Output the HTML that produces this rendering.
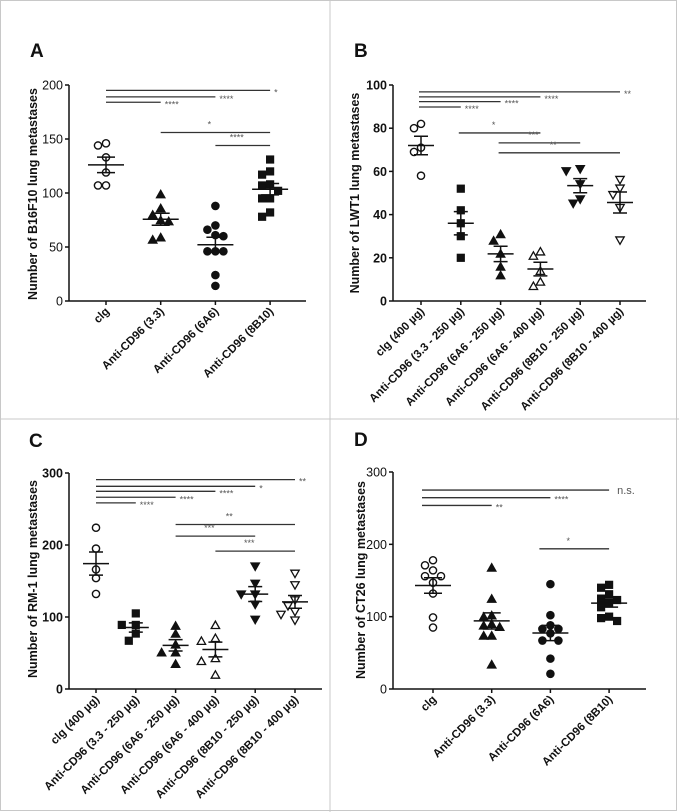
<!DOCTYPE html>
<html><head><meta charset="utf-8"><style>
html,body{margin:0;padding:0;background:#fff;}
svg{display:block;font-family:"Liberation Sans",Arial,sans-serif;}
</style></head><body>
<svg id="fig" width="679" height="812" viewBox="0 0 679 812">
<rect x="0" y="0" width="679" height="812" fill="#fff"/>
<rect x="0.5" y="0.5" width="676" height="810" fill="none" stroke="#c8c8c8"/>
<line x1="330" y1="0" x2="330" y2="812" stroke="#c8c8c8"/>
<line x1="0" y1="419" x2="679" y2="419" stroke="#c8c8c8"/>
</svg>
<script>
// ---------- Panel A data ----------
const aCategories = ["clg","Anti-CD96 (3.3)","Anti-CD96 (6A6)","Anti-CD96 (8B10)"];
const aGroup0 = [146,144,133,119,107,107];
const aGroup1 = [99,86,80,75,74,59,57];
const aGroup2 = [88,70,66,61,60,46,46,46,24,14];
const aGroup3 = [131,120,117,108,107,102,95,95,82,78];
const aTicks = [0,50,100,150,200];
const aSigY = [195,189,184,156,144];
const aSigFrom = [0,0,0,1,2];
const aSigTo = [3,2,1,3,3];
const aSigLabel = ["*","****","****","*","****"];

// ---------- Panel B data ----------
const bCategories = ["clg (400 µg)","Anti-CD96 (3.3 - 250 µg)","Anti-CD96 (6A6 - 250 µg)","Anti-CD96 (6A6 - 400 µg)","Anti-CD96 (8B10 - 250 µg)","Anti-CD96 (8B10 - 400 µg)"];
const bGroup0 = [82,80,71,69,58];
const bGroup1 = [52,42,36,30,20];
const bGroup2 = [31,28,22,16,12];
const bGroup3 = [23,21,14,9,7];
const bGroup4 = [61,60,54,47,45];
const bGroup5 = [56,52,49,43,28];
const bTicks = [0,20,40,60,80,100];
const bSigY = [96.8,94.5,92.3,89.8,77.8,73.2,68.6];
const bSigFrom = [0,0,0,0,1,2,2];
const bSigTo = [5,3,2,1,3,4,5];
const bSigLabel = ["**","****","****","****","*","***","**"];

// ---------- Panel C data ----------
const cCategories = ["clg (400 µg)","Anti-CD96 (3.3 - 250 µg)","Anti-CD96 (6A6 - 250 µg)","Anti-CD96 (6A6 - 400 µg)","Anti-CD96 (8B10 - 250 µg)","Anti-CD96 (8B10 - 400 µg)"];
const cGroup0 = [224,195,166,154,132];
const cGroup1 = [105,89,89,77,67];
const cGroup2 = [88,77,62,51,51,35];
const cGroup3 = [89,71,67,43,39,20];
const cGroup4 = [170,146,131,131,117,96];
const cGroup5 = [160,144,123,115,107,103,95];
const cTicks = [0,100,200,300];
const cSigY = [290.8,281.5,274.6,266.3,258.5,228.5,212.3,191.5];
const cSigFrom = [0,0,0,0,0,2,2,3];
const cSigTo = [5,4,3,2,1,5,4,5];
const cSigLabel = ["**","*","****","****","****","**","***","***"];

// ---------- Panel D data ----------
const dCategories = ["clg","Anti-CD96 (3.3)","Anti-CD96 (6A6)","Anti-CD96 (8B10)"];
const dGroup0 = [178,171,164,156,156,147,132,99,85];
const dGroup1 = [168,125,102,100,90,88,86,74,74,34];
const dGroup2 = [145,102,88,83,83,77,67,67,42,21];
const dGroup3 = [144,140,131,125,123,119,113,100,98,94];
const dTicks = [0,100,200,300];
const dSigY = [275,264.5,253.8,193.8];
const dSigFrom = [0,0,0,2];
const dSigTo = [3,2,1,3];
const dSigLabel = ["n.s.","****","**","*"];

const NS = "http://www.w3.org/2000/svg";
const svg = document.getElementById("fig");
function mk(tag, attrs, parent){
  const e = document.createElementNS(NS, tag);
  for (const k in attrs) e.setAttribute(k, attrs[k]);
  (parent||svg).appendChild(e);
  return e;
}

function drawPanel(p){
  const g = mk("g", {});
  
  
  const yScale = v => p.yBot - (v / p.ymax) * (p.yBot - p.yTop);
  const xScale = i => p.c0 + i * p.step;

  const letter = mk("text", {x:p.lx, y:p.ly, "font-size":19, "font-weight":"bold", fill:"#111"}, g);
  letter.textContent = p.id.toUpperCase();
  
  

  const yAxis = mk("line", {x1:p.ax, y1:p.yTop, x2:p.ax, y2:p.yBot, stroke:"#111", "stroke-width":1.5}, g);
  
  
  const xAxis = mk("line", {x1:p.ax, y1:p.yBot, x2:p.xEnd, y2:p.yBot, stroke:"#111", "stroke-width":1.5}, g);
  
  

  p.ticks.forEach(t => {
    const y = yScale(t);
    const tl = mk("line", {x1:p.ax-4, y1:y, x2:p.ax, y2:y, stroke:"#111", "stroke-width":1.5}, g);
    
    
    const tx = mk("text", {x:p.ax-6, y:y+4.5, "font-size":12.5, "font-weight":p.bold?"bold":"normal", "text-anchor":"end", fill:"#111"}, g);
    tx.textContent = t;
    
    
  });

  const yt = mk("text", {x:0, y:0, "font-size":12.5, "font-weight":"bold", "text-anchor":"middle", fill:"#111",
    transform:`translate(${p.tx},${p.ty}) rotate(-90)`}, g);
  yt.textContent = p.ytitle;
  
  

  p.cats.forEach((c, i) => {
    const x = xScale(i);
    const tk = mk("line", {x1:x, y1:p.yBot, x2:x, y2:p.yBot+4, stroke:"#111", "stroke-width":1.5}, g);
    
    
    const lb = mk("text", {x:0, y:0, "font-size":11.5, "font-weight":"bold", "text-anchor":"end", fill:"#111",
      transform:`translate(${x+4},${p.yBot+11}) rotate(-45)`}, g);
    lb.textContent = c;
    
    
  });

  // significance bars
  p.sigY.forEach((v, k) => {
    const y = yScale(v);
    const x1 = xScale(p.sigFrom[k]) + (p.sigStartOff||0);
    const x2 = xScale(p.sigTo[k]);
    const ln = mk("line", {x1:x1, y1:y, x2:x2, y2:y, stroke:"#333", "stroke-width":1.3}, g);
    
    
    const top = p.sigFrom[k] === 0;
    const lab = p.sigLab[k];
    const isNs = lab === "n.s.";
    const t = mk("text", top ? {x:x2+(isNs?8:4), y:y+(isNs?4:5), "font-size":isNs?11:9, fill:"#555"}
                            : {x:(x1+x2)/2-6, y:y-5, "font-size":9, fill:"#555", "text-anchor":"middle"}, g);
    t.textContent = lab;
    
    
  });

  // points
  const r = 3.6;
  p.groups.forEach((vals, i) => {
    const cx = xScale(i);
    const placed = [];
    const shape = p.shapes[i];
    const sorted = vals.slice().sort((a,b)=>b-a);
    sorted.forEach(v => {
      const y = yScale(v);
      const cands = [0,-p.jit,p.jit,-2*p.jit,2*p.jit,-3*p.jit,3*p.jit];
      let off = 0;
      for (const c of cands){
        if (placed.every(q => Math.hypot(q[0]-c, q[1]-y) >= 2*r+0.6)) { off = c; break; }
      }
      placed.push([off, y]);
      const x = cx + off;
      const open = shape.startsWith("o");
      const fill = open ? "#fff" : "#111";
      let el;
      if (shape.endsWith("circle")) el = mk("circle", {cx:x, cy:y, r:r, fill:fill, stroke:"#111", "stroke-width":1.4}, g);
      else if (shape.endsWith("square")) el = mk("rect", {x:x-r, y:y-r, width:2*r, height:2*r, fill:fill, stroke:"#111", "stroke-width":1}, g);
      else if (shape.endsWith("down")) el = mk("polygon", {points:`${x-4.2},${y-3.6} ${x+4.2},${y-3.6} ${x},${y+3.8}`, fill:fill, stroke:"#111", "stroke-width":1.3}, g);
      else el = mk("polygon", {points:`${x-4.2},${y+3.6} ${x+4.2},${y+3.6} ${x},${y-3.8}`, fill:fill, stroke:"#111", "stroke-width":1.3}, g);
      
      
    });
    const n = vals.length;
    const mean = vals.reduce((a,b)=>a+b,0)/n;
    const sd = Math.sqrt(vals.reduce((a,b)=>a+(b-mean)*(b-mean),0)/(n-1));
    const sem = sd/Math.sqrt(n);
    const ym = yScale(mean), yh = yScale(mean+sem), yl = yScale(mean-sem);
    const ml = mk("line", {x1:cx-p.mh, y1:ym, x2:cx+p.mh, y2:ym, stroke:"#111", "stroke-width":1.5}, g);
    
    
    const ev = mk("path", {d:`M${cx},${yh}V${yl}M${cx-p.sh},${yh}H${cx+p.sh}M${cx-p.sh},${yl}H${cx+p.sh}`, stroke:"#111", "stroke-width":1.5, fill:"none"}, g);
    
    
  });
}

drawPanel({id:"a", lx:30, ly:57, ax:69, yTop:85, yBot:301, xEnd:306, ymax:200, c0:106, step:54.7, mh:18, sh:9, jit:8, bold:false,
  tx:37, ty:194, ytitle:"Number of B16F10 lung metastases", cats:aCategories, ticks:aTicks,
  groups:[aGroup0,aGroup1,aGroup2,aGroup3], shapes:["ocircle","up","circle","square"],
  sigY:aSigY, sigFrom:aSigFrom, sigTo:aSigTo, sigLab:aSigLabel});
drawPanel({id:"b", lx:354, ly:57, ax:393, yTop:85, yBot:301, xEnd:646, ymax:100, c0:421, step:39.8, mh:13, sh:7, jit:7, bold:true,
  tx:359, ty:193, ytitle:"Number of LWT1 lung metastases", cats:bCategories, ticks:bTicks,
  groups:[bGroup0,bGroup1,bGroup2,bGroup3,bGroup4,bGroup5], shapes:["ocircle","square","up","oup","down","odown"],
  sigY:bSigY, sigFrom:bSigFrom, sigTo:bSigTo, sigLab:bSigLabel, sigStartOff:-2});
drawPanel({id:"c", lx:29, ly:447, ax:69, yTop:473, yBot:689, xEnd:322, ymax:300, c0:96, step:39.8, mh:13, sh:7, jit:7, bold:true,
  tx:37, ty:579, ytitle:"Number of RM-1 lung metastases", cats:cCategories, ticks:cTicks,
  groups:[cGroup0,cGroup1,cGroup2,cGroup3,cGroup4,cGroup5], shapes:["ocircle","square","up","oup","down","odown"],
  sigY:cSigY, sigFrom:cSigFrom, sigTo:cSigTo, sigLab:cSigLabel});
drawPanel({id:"d", lx:354, ly:446, ax:393, yTop:472, yBot:689, xEnd:646, ymax:300, c0:433, step:58.7, mh:18, sh:9, jit:8, bold:false,
  tx:365, ty:580, ytitle:"Number of CT26 lung metastases", cats:dCategories, ticks:dTicks,
  groups:[dGroup0,dGroup1,dGroup2,dGroup3], shapes:["ocircle","up","circle","square"],
  sigY:dSigY, sigFrom:dSigFrom, sigTo:dSigTo, sigLab:dSigLabel, sigStartOff:-11});
</script>
</body></html>
